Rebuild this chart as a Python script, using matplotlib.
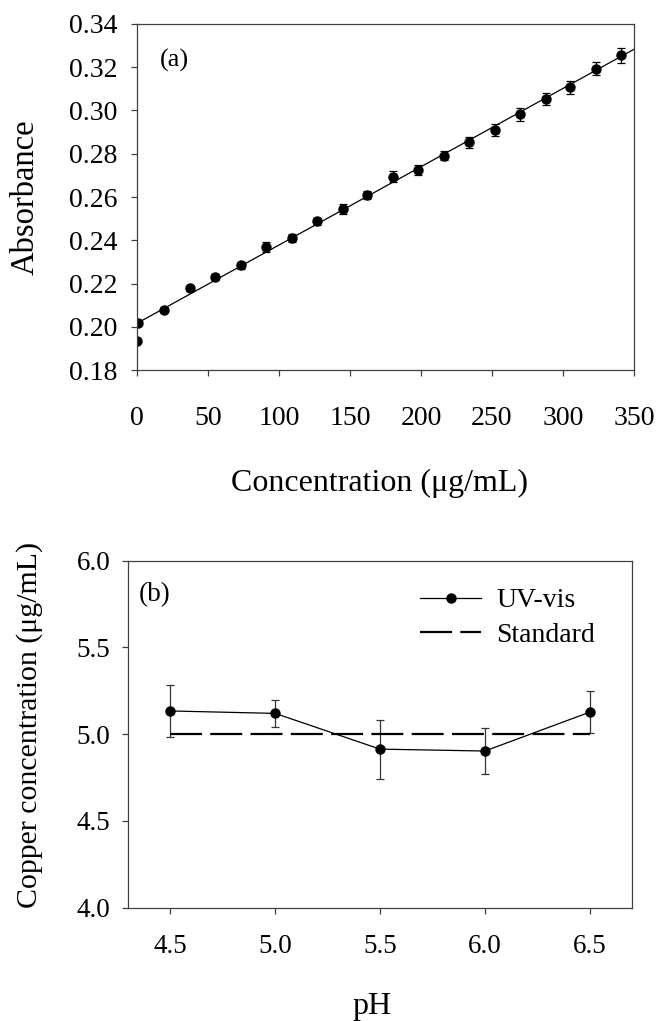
import numpy as np
import matplotlib
matplotlib.use("Agg")
import matplotlib.pyplot as plt

plt.rcParams['font.family'] = ['Liberation Serif', 'DejaVu Serif']
plt.rcParams['lines.scale_dashes'] = False

# panel (a): calibration data
conc = [0, 1, 19, 37, 55, 73, 91, 109, 127, 145, 162, 180, 198, 216,
        234, 252, 270, 288, 305, 323, 341]
absorb = [0.1935, 0.2018, 0.2077, 0.2177, 0.2230, 0.2284, 0.2369, 0.2410,
          0.2487, 0.2544, 0.2609, 0.2694, 0.2726, 0.2791, 0.2853, 0.2910,
          0.2982, 0.3055, 0.3107, 0.3193, 0.3255]
absorb_err = [0.0008, 0.0008, 0.0010, 0.0012, 0.0014, 0.0016, 0.0022, 0.0020,
              0.0018, 0.0022, 0.0020, 0.0025, 0.0022, 0.0022, 0.0025, 0.0028,
              0.0030, 0.0028, 0.0030, 0.0030, 0.0035]
fit_x = [0, 350]
fit_y = [0.2016, 0.3283]

# panel (b): pH study
ph = [4.5, 5.0, 5.5, 6.0, 6.5]
uvvis = [5.134, 5.120, 4.914, 4.903, 5.127]
uvvis_err = [0.150, 0.080, 0.170, 0.132, 0.120]
standard = [5.0, 5.0, 5.0, 5.0, 5.0]

fig = plt.figure(figsize=(6.58, 10.21), dpi=100)
ax1 = fig.add_axes([0.2082, 0.6376, 0.7553, 0.3389])
ax2 = fig.add_axes([0.195, 0.111, 0.765, 0.3398])

spine_c = '#404040'
for ax in (ax1, ax2):
    for s in ax.spines.values():
        s.set_color(spine_c)
        s.set_linewidth(0.9)
    ax.tick_params(direction='out', length=4, width=0.9, color=spine_c)

# (a)
ax1.plot(fit_x, fit_y, color='black', lw=0.9)
ax1.errorbar(conc, absorb, yerr=absorb_err, fmt='o', color='black', ms=6.5,
             ecolor='black', elinewidth=0.9, capsize=3, capthick=0.9)
ax1.set_xlim(0, 350)
ax1.set_ylim(0.18, 0.34)
ax1.set_xticks(np.arange(0, 351, 50))
ax1.set_yticks(np.arange(0.18, 0.341, 0.02))
ax1.set_yticklabels(['%.2f' % v for v in np.arange(0.18, 0.341, 0.02)])
ax1.tick_params(axis='x', labelsize=20, pad=22)
ax1.tick_params(axis='y', labelsize=20, pad=10)
ax1.set_xlabel('Concentration (\u03bcg/mL)', fontsize=23)
ax1.set_ylabel('Absorbance', fontsize=23.5)
ax1.xaxis.set_label_coords(0.487, -0.327)
ax1.xaxis.label.set_verticalalignment('center')
ax1.yaxis.set_label_coords(-0.2254, 0.5)
ax1.yaxis.label.set_verticalalignment('center')
ax1.text(0.046, 0.896, '(a)', transform=ax1.transAxes, fontsize=19,
         va='center', ha='left')

# (b)
ax2.errorbar(ph, uvvis, yerr=uvvis_err, fmt='none', ecolor='#333333',
             elinewidth=0.9, capsize=3, capthick=0.9)
ax2.plot(ph, uvvis, '-o', color='black', lw=0.9, ms=6.5, label='UV-vis')
ax2.plot(ph, standard, color='black', lw=1.6, dashes=(23, 6), label='Standard')
ax2.set_xlim(4.3, 6.7)
ax2.set_ylim(4.0, 6.0)
ax2.set_xticks(ph)
ax2.set_xticklabels(['%.1f' % v for v in ph])
ax2.set_yticks([4.0, 4.5, 5.0, 5.5, 6.0])
ax2.set_yticklabels(['4.0', '4.5', '5.0', '5.5', '6.0'])
ax2.tick_params(axis='x', labelsize=19.5, pad=15)
ax2.tick_params(axis='y', labelsize=19.5, pad=9)
ax2.set_xlabel('pH', fontsize=23)
ax2.set_ylabel('Copper concentration (\u03bcg/mL)', fontsize=21.5)
ax2.xaxis.set_label_coords(0.4835, -0.284)
ax2.xaxis.label.set_verticalalignment('center')
ax2.yaxis.set_label_coords(-0.1953, 0.527)
ax2.yaxis.label.set_verticalalignment('center')
ax2.text(0.02, 0.901, '(b)', transform=ax2.transAxes, fontsize=19.5,
         va='center', ha='left')
ax2.legend(loc='upper left', bbox_to_anchor=(0.5795, 0.922), frameon=False,
           fontsize=20, handlelength=2.2, handletextpad=0.55, labelspacing=0.32,
           borderpad=0, borderaxespad=0, numpoints=1)

fig.savefig('out.png', dpi=100)
